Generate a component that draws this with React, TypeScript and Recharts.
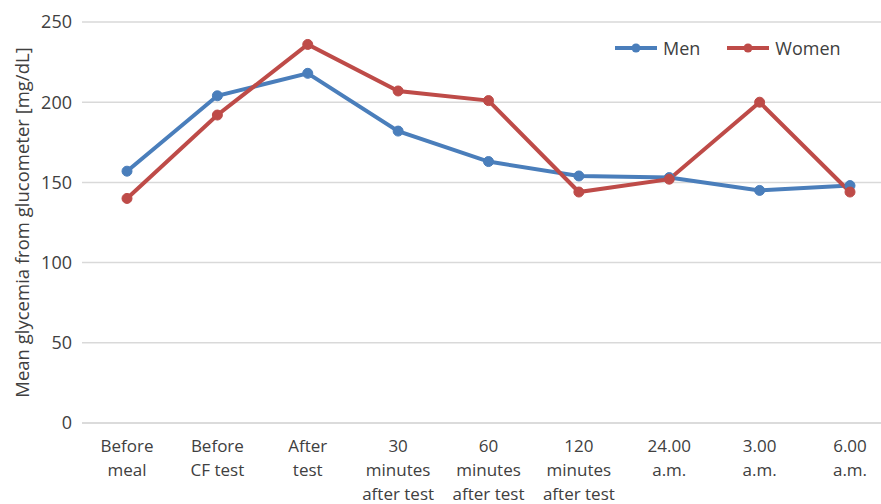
import React from "react";
import { LineChart, Line, XAxis, YAxis, CartesianGrid } from "recharts";

const categories = [
  "Before\nmeal",
  "Before\nCF test",
  "After\ntest",
  "30\nminutes\nafter test",
  "60\nminutes\nafter test",
  "120\nminutes\nafter test",
  "24.00\na.m.",
  "3.00\na.m.",
  "6.00\na.m.",
];
const men = [157, 204, 218, 182, 163, 154, 153, 145, 148];
const women = [140, 192, 236, 207, 201, 144, 152, 200, 144];
const yTicks = [0, 50, 100, 150, 200, 250];

const MEN_COLOR = "#4a7ebb";
const WOMEN_COLOR = "#be4b48";
const TEXT = "#404040";
const FONT = "'Open Sans', 'Noto Sans', sans-serif";

const data = categories.map((c, i) => ({
  label: c,
  men: men[i],
  women: women[i],
}));

function CategoryTick(props: any) {
  const { x, y, payload } = props;
  const lines = String(payload.value).split("\n");
  return (
    <text
      x={x}
      y={y + 21}
      textAnchor="middle"
      fill={TEXT}
      fontSize={17}
      fontFamily={FONT}
    >
      {lines.map((l, i) => (
        <tspan key={i} x={x} dy={i === 0 ? 0 : 24}>
          {l}
        </tspan>
      ))}
    </text>
  );
}

function ChartLegend() {
  const items = [
    { name: "Men", color: MEN_COLOR },
    { name: "Women", color: WOMEN_COLOR },
  ];
  return (
    <div
      style={{
        position: "absolute",
        left: 614,
        top: 36,
        display: "flex",
        fontFamily: FONT,
        fontSize: 18,
        color: TEXT,
      }}
    >
      {items.map((it) => (
        <div
          key={it.name}
          style={{ display: "flex", alignItems: "center", marginRight: 26 }}
        >
          <svg width={44} height={12} style={{ marginRight: 5 }}>
            <line x1={1} y1={6} x2={43} y2={6} stroke={it.color} strokeWidth={4} />
            <circle cx={22} cy={6} r={4.5} fill={it.color} />
          </svg>
          <span>{it.name}</span>
        </div>
      ))}
    </div>
  );
}

export default function App() {
  return (
    <div
      style={{
        position: "absolute",
        left: 0,
        top: 0,
        width: 881,
        height: 504,
        overflow: "hidden",
        background: "#fff",
      }}
    >
      <LineChart
        width={900}
        height={504}
        data={data}
        margin={{ top: 22, right: 5, left: 0, bottom: 0 }}
      >
        <CartesianGrid vertical={false} stroke="#d9d9d9" strokeWidth={1.5} />
        <XAxis
          dataKey="label"
          height={81}
          tick={<CategoryTick />}
          tickLine={false}
          axisLine={{ stroke: "#d9d9d9", strokeWidth: 1.5 }}
          interval={0}
          padding={{ left: 45, right: 45 }}
        />
        <YAxis
          domain={[0, 250]}
          ticks={yTicks}
          width={82}
          tickLine={false}
          axisLine={false}
          tick={{ fill: TEXT, fontSize: 18, fontFamily: FONT, dx: -2 }}
          label={{
            value: "Mean glycemia from glucometer [mg/dL]",
            angle: -90,
            position: "insideLeft",
            dx: 17,
            dy: 0,
            style: {
              fill: TEXT,
              fontSize: 18.5,
              fontFamily: FONT,
              textAnchor: "middle",
            },
          }}
        />
        <Line
          type="linear"
          dataKey="men"
          name="Men"
          stroke={MEN_COLOR}
          strokeWidth={4}
          dot={{ r: 5, fill: MEN_COLOR, stroke: MEN_COLOR, strokeWidth: 1 }}
          isAnimationActive={false}
        />
        <Line
          type="linear"
          dataKey="women"
          name="Women"
          stroke={WOMEN_COLOR}
          strokeWidth={4}
          dot={{ r: 5, fill: WOMEN_COLOR, stroke: WOMEN_COLOR, strokeWidth: 1 }}
          isAnimationActive={false}
        />
      </LineChart>
      <ChartLegend />
    </div>
  );
}
